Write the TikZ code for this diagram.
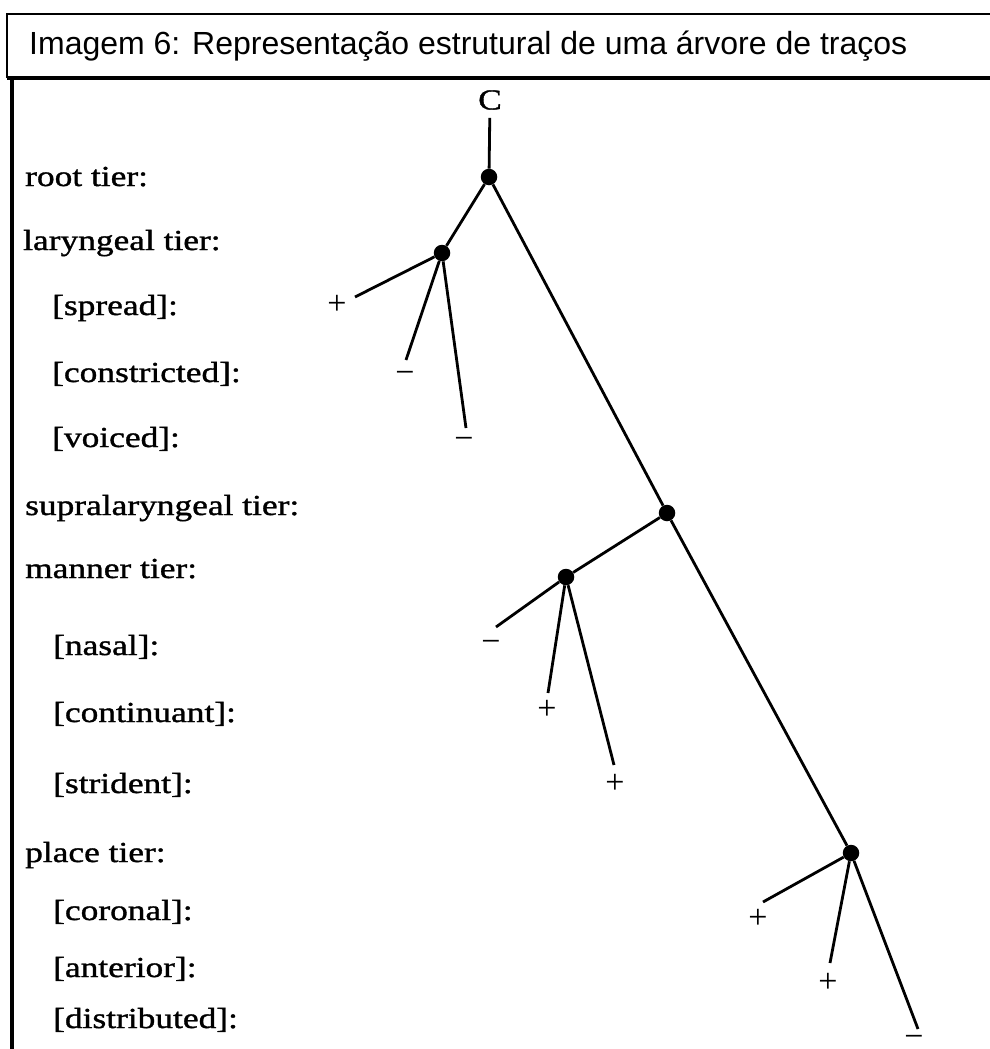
\documentclass[tikz,border=0pt]{standalone}
\usepackage{fontspec}
\setmainfont{Liberation Serif}
\newfontfamily\hdrfont{Liberation Sans}
\newfontfamily\labfont[FakeStretch=1.22,FakeBold=1.2]{Liberation Serif}
\begin{document}
\begin{tikzpicture}[x=1pt,y=-1pt,
  lab/.style={anchor=base west, inner sep=0pt, font=\labfont\fontsize{29}{29}\selectfont},
  sign/.style={anchor=base, inner sep=0pt, font=\fontsize{34}{34}\selectfont},
  dot/.style={circle, fill=black, inner sep=0pt, minimum size=16.5pt},
  branch/.style={line width=2.8pt},
  frame/.style={line width=2pt}]
\useasboundingbox (0,0) rectangle (989,1049);
\fill[white] (0,0) rectangle (989,1049);
% frame
\draw[frame] (992,14) -- (7,14) -- (7,78);
\draw[line width=3.5pt] (7,78) -- (992,78);
\draw[line width=4pt] (12,78) -- (12,1052);
\node[anchor=base west, inner sep=0pt, font=\hdrfont\fontsize{32}{32}\selectfont] (title) at (29,55) {Imagem 6: Representação estrutural de uma árvore de traços};
% tier labels
\node[lab] (t1) at (25,186) {root tier:};
\node[lab] (t2) at (23,250) {laryngeal tier:};
\node[lab] (t3) at (52,315) {[spread]:};
\node[lab] (t4) at (52,382) {[constricted]:};
\node[lab] (t5) at (52,447) {[voiced]:};
\node[lab] (t6) at (25,515) {supralaryngeal tier:};
\node[lab] (t7) at (25,578) {manner tier:};
\node[lab] (t8) at (53,655) {[nasal]:};
\node[lab] (t9) at (53,722) {[continuant]:};
\node[lab] (t10) at (53,793) {[strident]:};
\node[lab] (t11) at (25,862) {place tier:};
\node[lab] (t12) at (53,920) {[coronal]:};
\node[lab] (t13) at (53,977) {[anterior]:};
\node[lab] (t14) at (53,1028) {[distributed]:};
% tree nodes
\node[inner sep=0pt, font=\labfont\fontsize{29}{29}\selectfont] (C) at (490,100) {C};
\node[dot] (root) at (489,177) {};
\node[dot] (lar) at (442,253) {};
\node[dot] (sup) at (667,513) {};
\node[dot] (man) at (566,577) {};
\node[dot] (pla) at (851,853) {};
% branch ends
\coordinate (l1) at (355,297);
\coordinate (l2) at (406,360);
\coordinate (l3) at (466,428);
\coordinate (m1) at (496,627);
\coordinate (m2) at (548,693);
\coordinate (m3) at (614,765);
\coordinate (p1) at (763,902);
\coordinate (p2) at (830,963);
\coordinate (p3) at (918,1029);
% signs
\node[sign] (sl1) at (337,314) {+};
\node[sign] (sl2) at (405,383) {−};
\node[sign] (sl3) at (464,449) {−};
\node[sign] (sm1) at (491,652) {−};
\node[sign] (sm2) at (547,719) {+};
\node[sign] (sm3) at (615,793) {+};
\node[sign] (sp1) at (758,928) {+};
\node[sign] (sp2) at (828,992) {+};
\node[sign] (sp3) at (914,1047) {−};
% branches
\draw[branch, shorten <=8pt] (C) -- (root);
\draw[branch] (root) -- (lar);
\draw[branch] (root) -- (sup);
\draw[branch] (sup) -- (man);
\draw[branch] (sup) -- (pla);
\draw[branch] (lar) -- (l1);
\draw[branch] (lar) -- (l2);
\draw[branch] (lar) -- (l3);
\draw[branch] (man) -- (m1);
\draw[branch] (man) -- (m2);
\draw[branch] (man) -- (m3);
\draw[branch] (pla) -- (p1);
\draw[branch] (pla) -- (p2);
\draw[branch] (pla) -- (p3);
\end{tikzpicture}
\end{document}
